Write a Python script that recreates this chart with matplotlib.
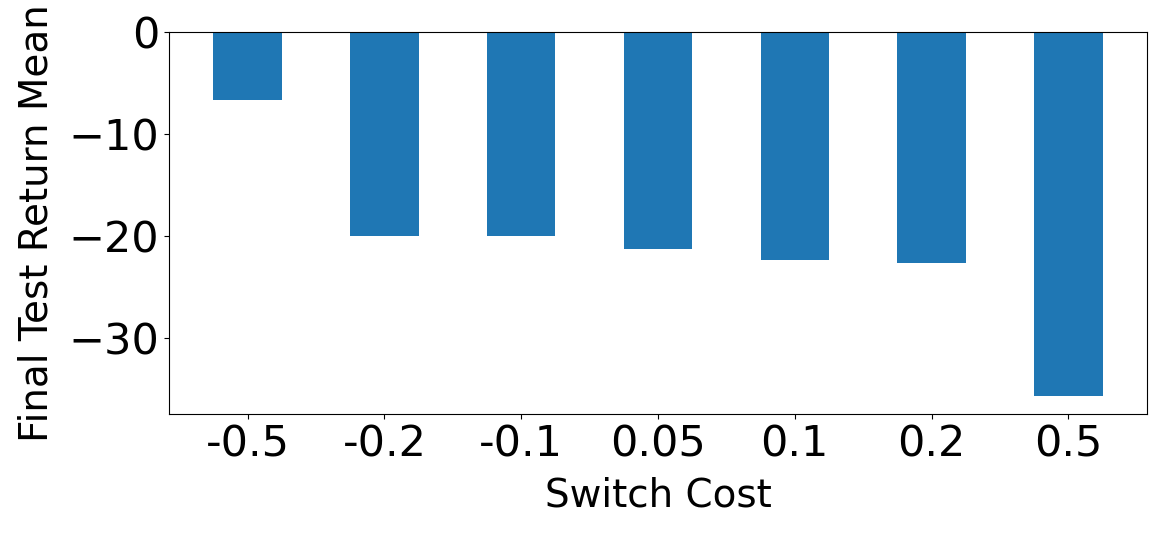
import matplotlib
matplotlib.use("Agg")
import matplotlib.pyplot as plt

# switch cost settings and the mean final test return for each
switch_costs = ["-0.5", "-0.2", "-0.1", "0.05", "0.1", "0.2", "0.5"]
return_mean = [-6.6, -20.0, -20.0, -21.2, -22.3, -22.6, -35.6]

fig = plt.figure(figsize=(11.63, 5.34), dpi=100)
# axes box placed to match the reference layout
ax = fig.add_axes([169 / 1163, 1 - 413.7 / 534, 978 / 1163, 381.4 / 534])

ax.bar(range(len(switch_costs)), return_mean, width=0.5, color="#1f77b4")

ax.set_xticks(range(len(switch_costs)))
ax.set_xticklabels(switch_costs)
ax.tick_params(axis="both", labelsize=31)
ax.set_xlabel("Switch Cost", fontsize=28, labelpad=8)
ax.set_ylabel("Final Test Return Mean", fontsize=28, labelpad=9)

fig.savefig("out.png", dpi=100)
